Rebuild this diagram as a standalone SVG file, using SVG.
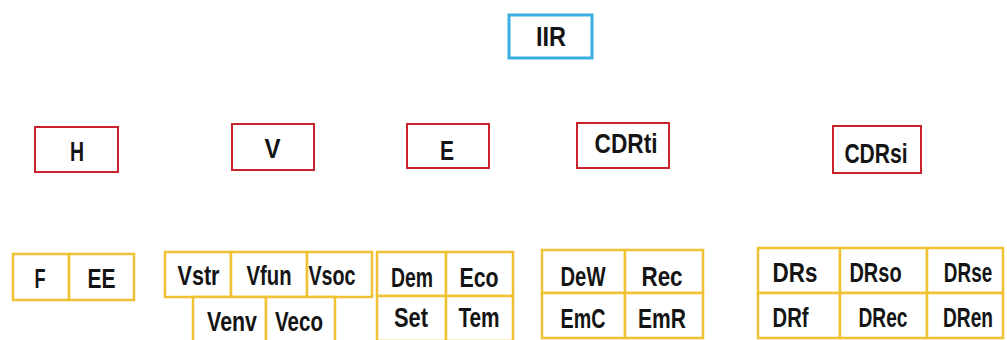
<svg xmlns="http://www.w3.org/2000/svg" width="1007" height="340" viewBox="0 0 1007 340">
  <style>
    .lbl { font-family: "Liberation Sans", Arial, sans-serif; font-weight: bold; font-size: 27px; fill: #141414; text-anchor: middle; }
    .root { fill: #ffffff; stroke: #3aaee0; stroke-width: 3; }
    .dim { fill: #ffffff; stroke: #c8232c; stroke-width: 2; }
    .ind { fill: #ffffff; stroke: #f0c132; stroke-width: 2.5; }
  </style>
  <rect width="1007" height="340" fill="#ffffff"/>

  <!-- root; labels use a horizontal squeeze for a narrow bold face -->
  <g id="node-IIR">
    <rect class="root" x="509" y="15" width="83" height="43"/>
    <text class="lbl" transform="translate(551 46) scale(.87 1)">IIR</text>
  </g>

  <!-- dimensions -->
  <g id="node-H">
    <rect class="dim" x="35" y="127" width="83" height="45"/>
    <text class="lbl" transform="translate(77 161) scale(.72 1)">H</text>
  </g>
  <g id="node-V">
    <rect class="dim" x="232" y="124" width="82" height="46"/>
    <text class="lbl" transform="translate(272.5 158) scale(.89 1)">V</text>
  </g>
  <g id="node-E">
    <rect class="dim" x="407" y="124" width="82" height="44"/>
    <text class="lbl" transform="translate(447 160) scale(.78 1)">E</text>
  </g>
  <g id="node-CDRti">
    <rect class="dim" x="577" y="123" width="92" height="45"/>
    <text class="lbl" transform="translate(626 153) scale(.84 1)">CDRti</text>
  </g>
  <g id="node-CDRsi">
    <rect class="dim" x="833" y="126" width="88" height="47"/>
    <text class="lbl" transform="translate(876 163) scale(.78 1)">CDRsi</text>
  </g>

  <!-- indicators under H -->
  <g id="node-F">
    <rect class="ind" x="13" y="254" width="56" height="46"/>
    <text class="lbl" transform="translate(40 288) scale(.67 1)">F</text>
  </g>
  <g id="node-EE">
    <rect class="ind" x="69" y="254" width="65" height="46"/>
    <text class="lbl" transform="translate(101.5 288) scale(.78 1)">EE</text>
  </g>

  <!-- indicators under V -->
  <g id="node-Vstr">
    <rect class="ind" x="165" y="252" width="66" height="45"/>
    <text class="lbl" transform="translate(198.5 285) scale(.8 1)">Vstr</text>
  </g>
  <g id="node-Vfun">
    <rect class="ind" x="231" y="252" width="76" height="45"/>
    <text class="lbl" transform="translate(269 285) scale(.75 1)">Vfun</text>
  </g>
  <g id="node-Vsoc">
    <rect class="ind" x="307" y="252" width="65" height="45"/>
    <text class="lbl" transform="translate(332 285) scale(.73 1)">Vsoc</text>
  </g>
  <g id="node-Venv">
    <rect class="ind" x="193" y="297" width="73" height="46"/>
    <text class="lbl" transform="translate(232 331) scale(.79 1)">Venv</text>
  </g>
  <g id="node-Veco">
    <rect class="ind" x="266" y="297" width="69" height="46"/>
    <text class="lbl" transform="translate(299 331) scale(.76 1)">Veco</text>
  </g>

  <!-- indicators under E -->
  <g id="node-Dem">
    <rect class="ind" x="377" y="252" width="69" height="44"/>
    <text class="lbl" transform="translate(412 287) scale(.72 1)">Dem</text>
  </g>
  <g id="node-Eco">
    <rect class="ind" x="446" y="252" width="67" height="44"/>
    <text class="lbl" transform="translate(479 287) scale(.79 1)">Eco</text>
  </g>
  <g id="node-Set">
    <rect class="ind" x="377" y="296" width="69" height="45"/>
    <text class="lbl" transform="translate(411 327) scale(.81 1)">Set</text>
  </g>
  <g id="node-Tem">
    <rect class="ind" x="446" y="296" width="67" height="45"/>
    <text class="lbl" transform="translate(479 327) scale(.77 1)">Tem</text>
  </g>

  <!-- indicators under CDRti -->
  <g id="node-DeW">
    <rect class="ind" x="542" y="250" width="83" height="43"/>
    <text class="lbl" transform="translate(583 286) scale(.75 1)">DeW</text>
  </g>
  <g id="node-Rec">
    <rect class="ind" x="625" y="250" width="78" height="43"/>
    <text class="lbl" transform="translate(662 286) scale(.83 1)">Rec</text>
  </g>
  <g id="node-EmC">
    <rect class="ind" x="542" y="293" width="83" height="45"/>
    <text class="lbl" transform="translate(583 328) scale(.73 1)">EmC</text>
  </g>
  <g id="node-EmR">
    <rect class="ind" x="625" y="293" width="78" height="45"/>
    <text class="lbl" transform="translate(662 328) scale(.78 1)">EmR</text>
  </g>

  <!-- indicators under CDRsi -->
  <g id="node-DRs">
    <rect class="ind" x="758" y="248" width="82" height="45"/>
    <text class="lbl" transform="translate(795 282) scale(.83 1)">DRs</text>
  </g>
  <g id="node-DRso">
    <rect class="ind" x="840" y="248" width="87" height="45"/>
    <text class="lbl" transform="translate(875.5 282) scale(.74 1)">DRso</text>
  </g>
  <g id="node-DRse">
    <rect class="ind" x="927" y="248" width="76" height="45"/>
    <text class="lbl" transform="translate(968 282) scale(.7 1)">DRse</text>
  </g>
  <g id="node-DRf">
    <rect class="ind" x="758" y="293" width="82" height="45"/>
    <text class="lbl" transform="translate(790.5 327) scale(.75 1)">DRf</text>
  </g>
  <g id="node-DRec">
    <rect class="ind" x="840" y="293" width="87" height="45"/>
    <text class="lbl" transform="translate(883 327) scale(.71 1)">DRec</text>
  </g>
  <g id="node-DRen">
    <rect class="ind" x="927" y="293" width="76" height="45"/>
    <text class="lbl" transform="translate(968 327) scale(.71 1)">DRen</text>
  </g>

  <!-- no links are drawn between the boxes -->
  <g id="connectors"/>
</svg>
